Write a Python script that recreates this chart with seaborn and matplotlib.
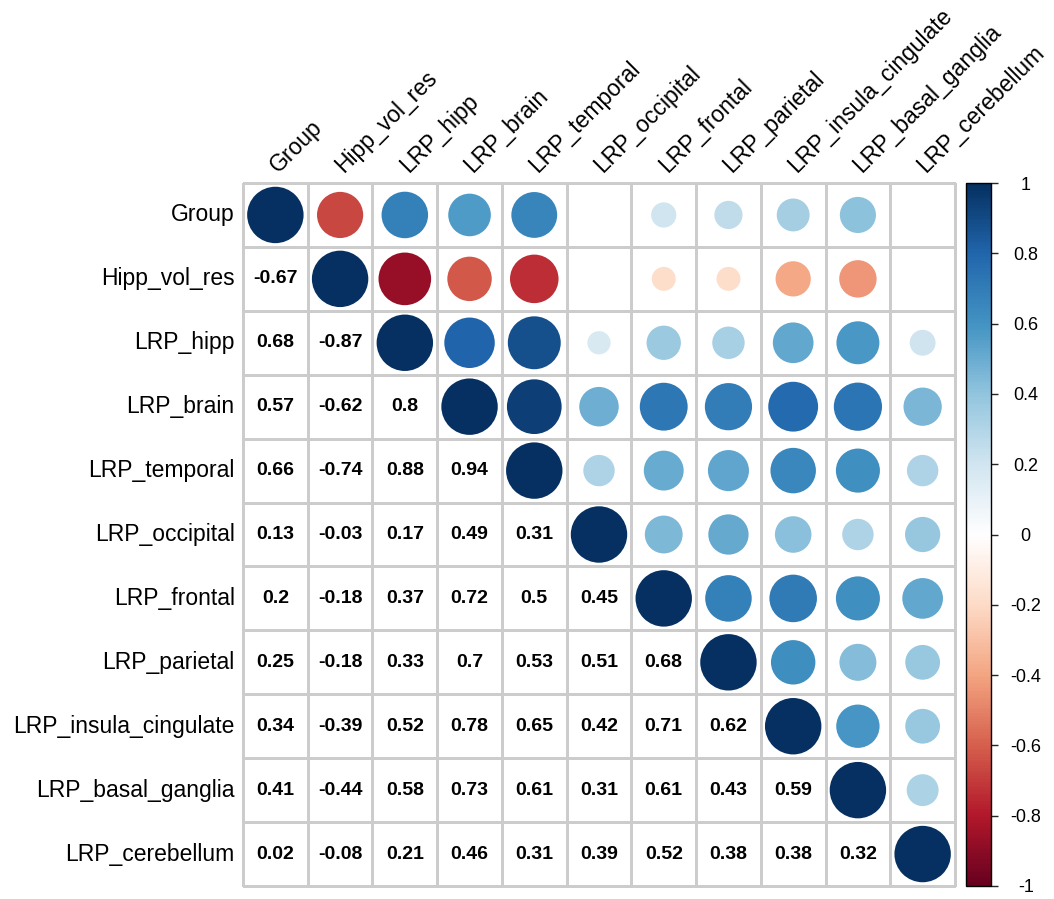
# corrplot-style mixed correlation matrix (numbers below, circles above)
import numpy as np
import pandas as pd
import matplotlib
matplotlib.use('Agg')
import matplotlib.pyplot as plt
import matplotlib.transforms as mtransforms
import seaborn as sns
from matplotlib.colors import LinearSegmentedColormap, ListedColormap, Normalize
from matplotlib.cm import ScalarMappable

sns.set_style('white')
plt.rcParams['font.family'] = ['Liberation Sans', 'DejaVu Sans']

# -------------------------------
# Data: lower triangle of correlation matrix
# -------------------------------
variables = ['Group', 'Hipp_vol_res', 'LRP_hipp', 'LRP_brain', 'LRP_temporal',
             'LRP_occipital', 'LRP_frontal', 'LRP_parietal', 'LRP_insula_cingulate',
             'LRP_basal_ganglia', 'LRP_cerebellum']

r_hipp_vol_res = [-0.67]
r_lrp_hipp = [0.68, -0.87]
r_lrp_brain = [0.57, -0.62, 0.8]
r_lrp_temporal = [0.66, -0.74, 0.88, 0.94]
r_lrp_occipital = [0.13, -0.03, 0.17, 0.49, 0.31]
r_lrp_frontal = [0.2, -0.18, 0.37, 0.72, 0.5, 0.45]
r_lrp_parietal = [0.25, -0.18, 0.33, 0.7, 0.53, 0.51, 0.68]
r_lrp_insula = [0.34, -0.39, 0.52, 0.78, 0.65, 0.42, 0.71, 0.62]
r_lrp_basal = [0.41, -0.44, 0.58, 0.73, 0.61, 0.31, 0.61, 0.43, 0.59]
r_lrp_cerebellum = [0.02, -0.08, 0.21, 0.46, 0.31, 0.39, 0.52, 0.38, 0.38, 0.32]

# pairs left blank in the circle half (not significant)
blank_pairs = [('Group', 'LRP_occipital'), ('Group', 'LRP_cerebellum'),
               ('Hipp_vol_res', 'LRP_occipital'), ('Hipp_vol_res', 'LRP_cerebellum')]

cbar_ticks = [1, 0.8, 0.6, 0.4, 0.2, 0, -0.2, -0.4, -0.6, -0.8, -1]

lower_rows = [[], r_hipp_vol_res, r_lrp_hipp, r_lrp_brain, r_lrp_temporal,
              r_lrp_occipital, r_lrp_frontal, r_lrp_parietal, r_lrp_insula,
              r_lrp_basal, r_lrp_cerebellum]

n = len(variables)
corr = np.eye(n)
for i, row in enumerate(lower_rows):
    for j, v in enumerate(row):
        corr[i, j] = v
        corr[j, i] = v
corr = pd.DataFrame(corr, index=variables, columns=variables)

# text for the lower triangle
annot = np.full((n, n), '', dtype=object)
for i in range(n):
    for j in range(i):
        annot[i, j] = f'{corr.iloc[i, j]:g}'

# circles for diagonal + upper triangle
blank_idx = {(variables.index(a), variables.index(b)) for a, b in blank_pairs}
xs, ys, vals = [], [], []
for i in range(n):
    for j in range(i, n):
        if (i, j) in blank_idx:
            continue
        xs.append(j + 0.5)
        ys.append(i + 0.5)
        vals.append(corr.iloc[i, j])
vals = np.array(vals)

# corrplot RdBu colours
cmap = LinearSegmentedColormap.from_list(
    'corr_rdbu', ['#67001F', '#B2182B', '#D6604D', '#F4A582', '#FDDBC7', '#FFFFFF',
                  '#D1E5F0', '#92C5DE', '#4393C3', '#2166AC', '#053061'])
norm = Normalize(vmin=-1, vmax=1)

# -------------------------------
# Plot
# -------------------------------
fig = plt.figure(figsize=(10.54, 8.99), dpi=100)
ax = fig.add_axes([243 / 1054, 13 / 899, 712 / 1054, 703 / 899])

sns.heatmap(np.zeros((n, n)), ax=ax, cmap=ListedColormap(['white']), cbar=False,
            annot=annot, fmt='', linewidths=1.0, linecolor='#cccccc',
            xticklabels=variables, yticklabels=variables,
            annot_kws={'fontsize': 14, 'fontweight': 'bold', 'color': 'black'})
ax.collections[0].set_clip_on(False)

ax.scatter(xs, ys, s=1650 * np.abs(vals), c=vals, cmap=cmap, norm=norm,
           linewidths=0, zorder=3)

ax.xaxis.tick_top()
ax.tick_params(axis='x', length=0, pad=4, labelsize=16.5, labelcolor='black')
ax.tick_params(axis='y', length=0, pad=6, labelsize=16.5, labelcolor='black')
shift = mtransforms.ScaledTranslation(5 / 72, 0, fig.dpi_scale_trans)
for lbl in ax.get_xticklabels():
    lbl.set_rotation(45)
    lbl.set_ha('left')
    lbl.set_va('bottom')
    lbl.set_rotation_mode('anchor')
    lbl.set_transform(lbl.get_transform() + shift)
plt.setp(ax.get_yticklabels(), rotation=0)

# colour bar
cax = fig.add_axes([966 / 1054, 13 / 899, 25 / 1054, 703 / 899])
cb = fig.colorbar(ScalarMappable(norm=norm, cmap=cmap), cax=cax)
cb.set_ticks(cbar_ticks)
cb.set_ticklabels([f'{t:g}' for t in cbar_ticks])
cb.outline.set_linewidth(1)
cb.outline.set_edgecolor('black')
cax.tick_params(axis='y', length=5, width=1, pad=20, labelsize=13, labelcolor='black')
plt.setp(cax.get_yticklabels(), ha='center')

fig.savefig('out.png', dpi=100)
